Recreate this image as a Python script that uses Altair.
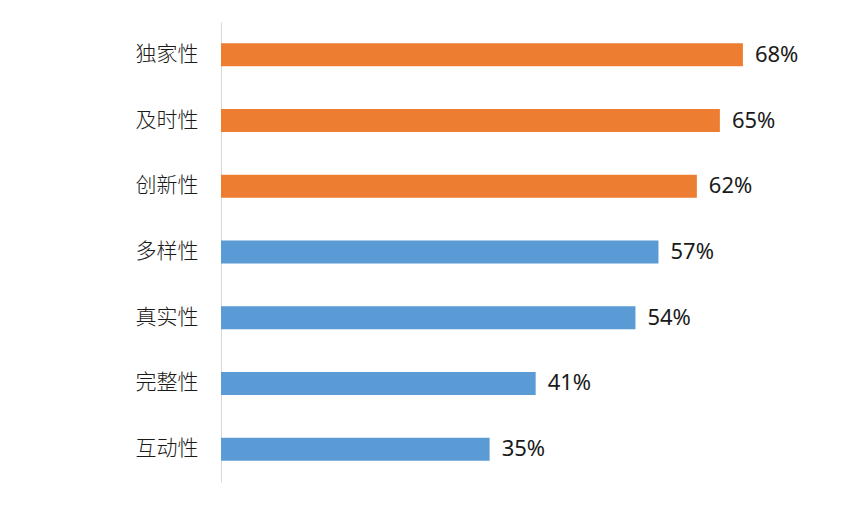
import altair as alt
import pandas as pd

categories = ["独家性", "及时性", "创新性", "多样性", "真实性", "完整性", "互动性"]
values = [0.68, 0.65, 0.62, 0.57, 0.54, 0.41, 0.35]
groups = ["top", "top", "top", "other", "other", "other", "other"]
labels = ["68%", "65%", "62%", "57%", "54%", "41%", "35%"]

df = pd.DataFrame({"category": categories, "value": values, "group": groups, "label": labels})

FONT = "Noto Sans CJK SC"

y = alt.Y("category:N", sort=categories,
          scale=alt.Scale(paddingInner=0, paddingOuter=0),
          axis=alt.Axis(title=None, ticks=False, labelFontSize=21, labelFont=FONT,
                        labelFontWeight=300,
                        labelColor="#1a1a1a", labelPadding=23, domainColor="#d9d9d9",
                        domainWidth=1, grid=False))
x = alt.X("value:Q", scale=alt.Scale(domain=[0, 0.8], nice=False), axis=None)

bars = alt.Chart(df).mark_bar(size=23).encode(
    y=y, x=x,
    color=alt.Color("group:N", scale=alt.Scale(domain=["top", "other"], range=["#ED7D31", "#5B9BD5"]), legend=None),
)

text = alt.Chart(df).mark_text(align="left", baseline="middle", dx=12, fontSize=22, font="Noto Sans",
                               color="#1a1a1a").encode(
    y=alt.Y("category:N", sort=categories), x=x, text="label:N"
)

chart = (bars + text).properties(
    width=614, height=460,
    autosize=alt.AutoSizeParams(type="none"),
    padding={"left": 213, "top": 14, "right": 0, "bottom": 15},
).configure_view(stroke=None)

chart.save("out.html", embed_options={"renderer": "svg", "actions": False})
